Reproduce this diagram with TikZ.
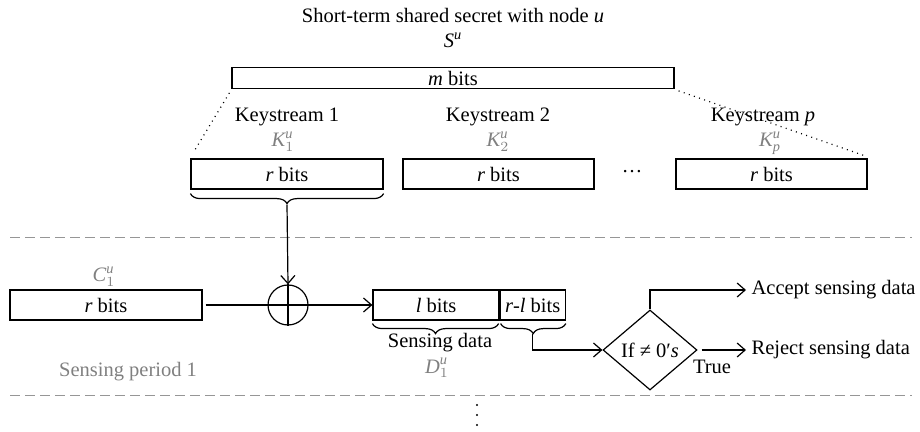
\documentclass[tikz,border=0pt]{standalone}
\usepackage{amsmath}
\usepackage{fontspec}
\setmainfont{Liberation Serif}
\usetikzlibrary{arrows.meta,shapes.geometric,decorations.pathreplacing,calc}
\newcommand\tv[1]{\text{\itshape #1}}
\definecolor{labgray}{RGB}{128,128,128}
\definecolor{sepgray}{RGB}{150,150,150}

\begin{document}
\begin{tikzpicture}[x=0.5pt,y=-0.5pt,
  font=\fontsize{10.25}{12}\selectfont, line width=0.6pt,
  bitbox/.style={draw, rectangle, inner sep=0pt, minimum height=15pt},
  sep/.style={draw=sepgray, dash pattern=on 5pt off 2.5pt, line width=0.5pt},
  guide/.style={dash pattern=on 0.5pt off 2.2pt, line width=0.6pt},
  arr/.style={-{Straight Barb[length=4pt,width=7pt]}},
  curly/.style={decorate, decoration={brace, mirror, amplitude=5pt}},
  note/.style={text=labgray},
  lab/.style={inner sep=0pt, anchor=base}]

\useasboundingbox (0,0) rectangle (920,432);

% shared secret
\node[lab] (title) at (453,23) {Short-term shared secret with node \tv{u}};
\node[lab] (su) at (453,48) {$\tv{S}^{\tv{u}}$};
\node[bitbox, minimum width=221pt, minimum height=10.3pt] (mbox) at (453,78) {\tv{m} bits};

% keystreams
\node[lab] (ks1) at (287,122) {Keystream 1};
\node[lab] (ks2) at (498,122) {Keystream 2};
\node[lab] (ksp) at (763,122) {Keystream \tv{p}};
\node[lab, note] (k1) at (283,147) {$\tv{K}_1^{\tv{u}}$};
\node[lab, note] (k2) at (498,147) {$\tv{K}_2^{\tv{u}}$};
\node[lab, note] (kp) at (770,147) {$\tv{K}_{\tv{p}}^{\tv{u}}$};

\node[bitbox, minimum width=96pt] (box1) at (287,174) {\tv{r} bits};
\node[bitbox, minimum width=95.5pt] (box2) at (498.5,174) {\tv{r} bits};
\node[bitbox, minimum width=95.5pt] (boxp) at (771.5,174) {\tv{r} bits};
\node (gap) at (632,172) {\dots};

\draw[guide] ($(mbox.south west)+(-2,4)$) -- ($(box1.north west)+(3,-6)$);
\draw[guide] ($(mbox.south east)+(4,2)$) -- ($(boxp.north east)+(-1,-2)$);

\draw[curly] ($(box1.south west)+(0,4)$) -- ($(box1.south east)+(0,4)$);
\coordinate (b1tip) at ($(box1.south)+(0,15)$);

% separators
\draw[sep] (10,238) -- (912,238);
\draw[sep] (10,395) -- (912,395);

% sensing period
\node[lab, note] (c1) at (104,282) {$\tv{C}_1^{\tv{u}}$};
\node[bitbox, minimum width=96pt] (cbox) at (106,305) {\tv{r} bits};
\node[draw, circle, minimum size=20pt, inner sep=0pt] (xor) at (288,305) {};
\draw (xor.north) -- (xor.south) (xor.west) -- (xor.east);

\node[bitbox, minimum width=63pt] (lbox) at (436,305) {\tv{l} bits};
\node[bitbox, minimum width=32.5pt, anchor=west] (rlbox) at (lbox.east) {\tv{r}-\tv{l} bits};

\draw[curly] ($(lbox.south west)+(0,3)$) -- ($(lbox.south east)+(-1,3)$);
\draw[curly] ($(rlbox.south west)+(1,3)$) -- ($(rlbox.south east)+(0,3)$);
\coordinate (rltip) at ($(rlbox.south)+(0,13)$);

\node[lab] (sdata) at (440,348) {Sensing data};
\node[lab, note] (d1) at (437,373) {$\tv{D}_1^{\tv{u}}$};
\node[lab, note] (period) at (128,377) {Sensing period 1};

\node[draw, diamond, aspect=1.175, minimum width=47pt, minimum height=40pt,
      inner sep=0pt] (dec) at (650,350) {If ≠ 0′\tv{s}};
\node[anchor=west, inner sep=2.5pt] (accept) at (746,290) {Accept sensing data};
\node[anchor=west, inner sep=2.5pt] (reject) at (746,350) {Reject sensing data};
\node[lab] (true) at (712,373) {True};

% connectors
\draw[arr] (b1tip) -- (xor.north);
\draw[shorten <=1.5pt] (cbox.east) -- (xor.west);
\draw[arr] (xor.east) -- (lbox.west);
\draw[arr] (rltip) |- (dec.west);
\draw[arr] (dec.north) |- (accept.west);
\draw[arr, shorten <=2pt] (dec.east) -- (reject.west);

% continuation marks
\foreach \yy in {405,415,425}
  \fill (477,\yy) circle (0.6pt);
\end{tikzpicture}
\end{document}
